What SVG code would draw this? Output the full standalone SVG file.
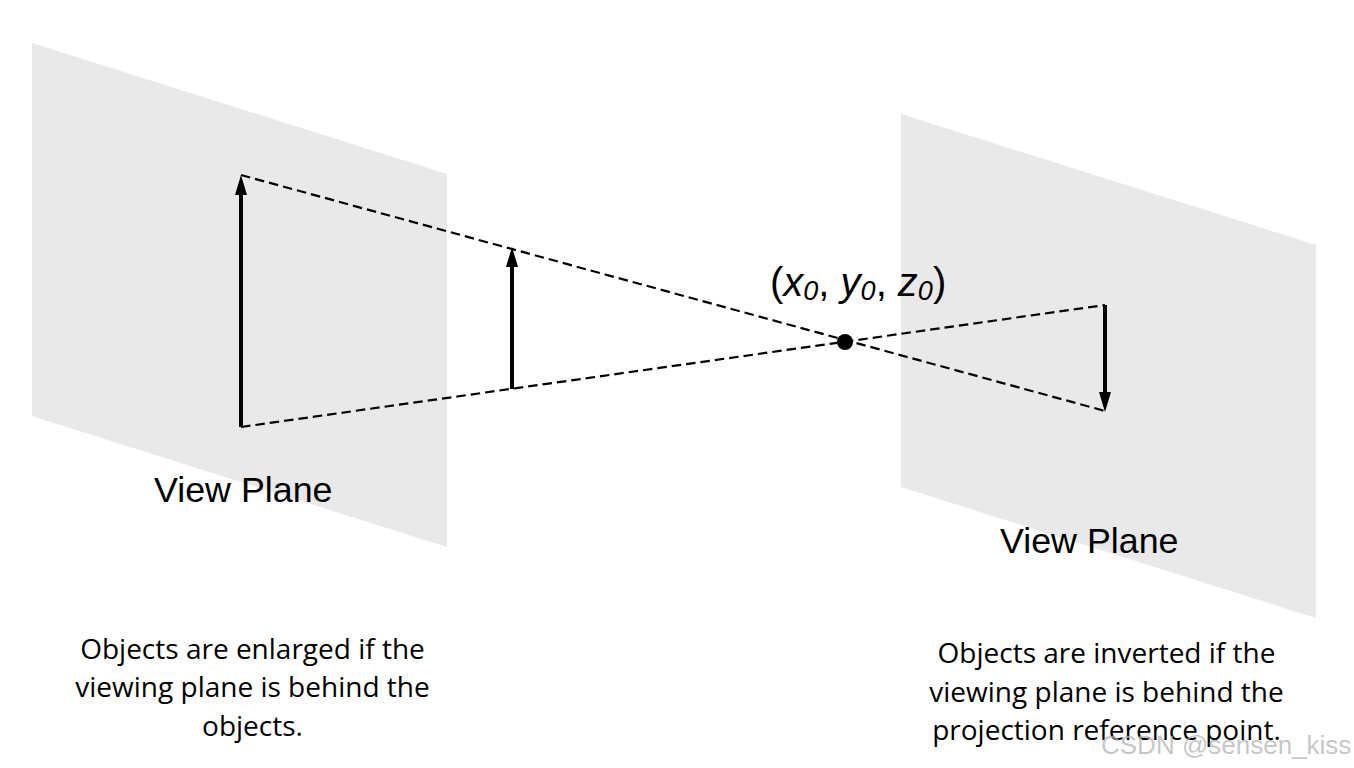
<svg xmlns="http://www.w3.org/2000/svg" width="1354" height="768" viewBox="0 0 1354 768">
<style>
.plane{fill:#e9e9e9}
.dash{fill:none;stroke:#000;stroke-width:2.200;stroke-dasharray:9.500 5}
.arrow{fill:none;stroke:#000;stroke-width:4}
.head{fill:#000}
.lab{font-family:"Liberation Sans",Arial,sans-serif;font-size:35.800px;fill:#000}
.note{font-family:"Open Sans","Noto Sans",sans-serif;font-size:28px;fill:#000;text-anchor:middle}
.pt{font-family:"Liberation Sans",Arial,sans-serif;font-size:40px;fill:#000}
.sub{font-size:27px;font-style:italic}
.wm{font-family:"Liberation Sans",Arial,sans-serif;font-size:26px;fill:#b4b4b4;fill-opacity:.75}
</style>
<g id="plane-left"><polygon class="plane" points="32,43 447,174 447,547 32,416"/></g>
<g id="plane-right"><polygon class="plane" points="901,114 1316,245 1316,618 901,487"/></g>
<g id="connectors">
<path class="dash" d="M241,175 L1105,411"/>
<path class="dash" d="M241,427 L1105,305"/>
<path class="arrow" d="M241,427 V192"/>
<polygon class="head" points="241,175 235,195 247,195"/>
<path class="arrow" d="M512,389 V264"/>
<polygon class="head" points="512,247 506,267 518,267"/>
<path class="arrow" d="M1105,305 V394"/>
<polygon class="head" points="1105,412 1099,392 1111,392"/>
</g>
<g id="point"><circle cx="845" cy="342" r="8" fill="#000"/>
<text class="pt" x="770" y="296">(<tspan font-style="italic">x</tspan><tspan class="sub" dy="4">0</tspan><tspan dy="-4">, </tspan><tspan font-style="italic">y</tspan><tspan class="sub" dy="4">0</tspan><tspan dy="-4">, </tspan><tspan font-style="italic">z</tspan><tspan class="sub" dy="4">0</tspan><tspan dy="-4">)</tspan></text></g>
<g id="label-left"><text class="lab" x="154" y="502">View Plane</text></g>
<g id="label-right"><text class="lab" x="1000" y="553">View Plane</text></g>
<g id="note-left"><text class="note"><tspan x="252.500" y="659">Objects are enlarged if the</tspan><tspan x="252.500" y="697">viewing plane is behind the</tspan><tspan x="252.500" y="736">objects.</tspan></text></g>
<g id="note-right"><text class="note"><tspan x="1106.500" y="663">Objects are inverted if the</tspan><tspan x="1106.500" y="702">viewing plane is behind the</tspan><tspan x="1106.500" y="740">projection reference point.</tspan></text></g>
<text class="wm" x="1101" y="754">CSDN @sensen_kiss</text>
</svg>
